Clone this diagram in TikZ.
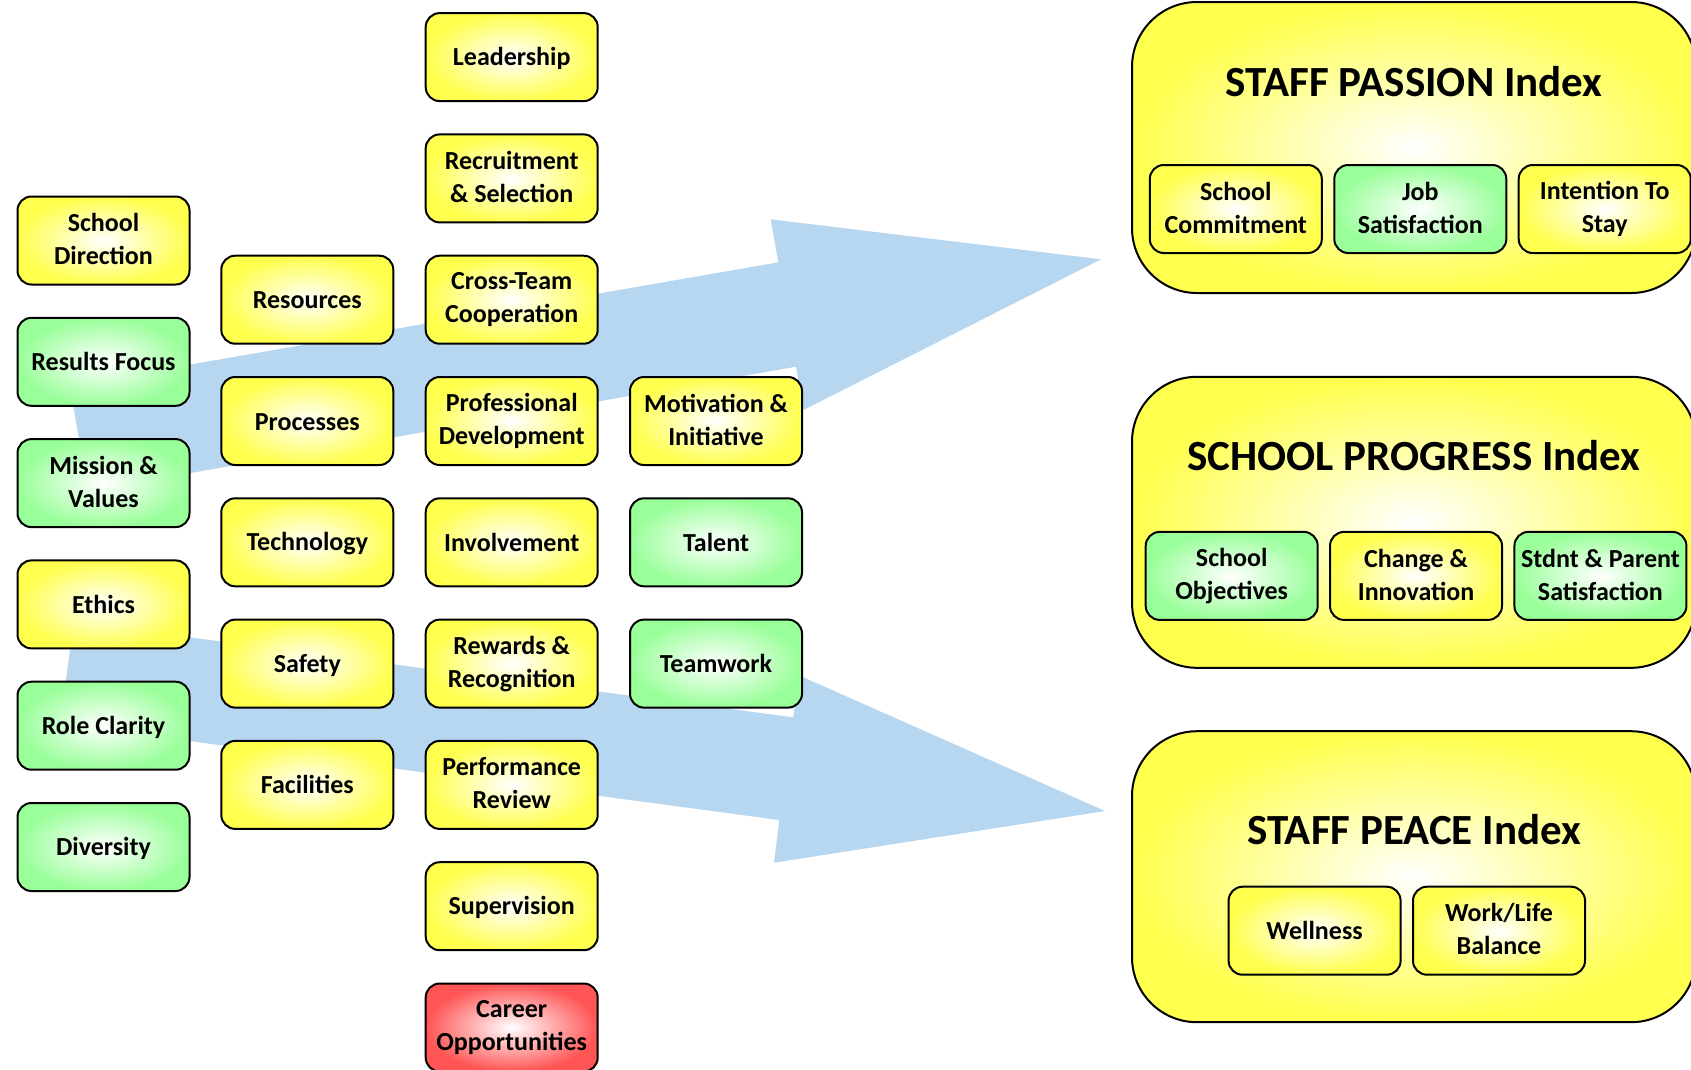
\documentclass[tikz,border=0pt]{standalone}
\usepackage{fontspec}
\setmainfont{Carlito}
\definecolor{boxyellow}{RGB}{255,255,77}
\definecolor{boxgreen}{RGB}{153,255,153}
\definecolor{boxred}{RGB}{255,85,85}
\definecolor{arrowblue}{RGB}{183,214,240}
\newcommand\boxstrut{\rule[-3pt]{0pt}{24pt}}
\tikzset{
  box/.style={draw, line width=2pt, rounded corners=14pt, minimum width=172pt,
    minimum height=88pt, inner sep=2pt, align=center,
    font=\bfseries\fontsize{26}{33}\selectfont,
    execute at begin node=\boxstrut, execute at end node=\boxstrut},
  yel/.style={box, inner color=white, outer color=boxyellow},
  grn/.style={box, inner color=white, outer color=boxgreen},
  rd/.style={box, inner color=white, outer color=boxred},
  index/.style={draw, line width=2pt, rounded corners=65pt, minimum width=564pt,
    minimum height=291pt, inner color=white, outer color=boxyellow},
  title/.style={font=\bfseries\fontsize{43}{52}\selectfont}
}
\begin{document}
\begin{tikzpicture}[x=1pt, y=-1pt]
            \useasboundingbox (0,0) rectangle (1691,1069);
            \clip (0,0) rectangle (1691,1069);
            \fill[arrowblue] (69.7,385.5) -- (778.3,262.3) -- (770.7,219.3) -- (1101,259.3)
                -- (803.5,410) -- (796,366.7) -- (88,491) -- cycle;
            \fill[arrowblue] (73.7,622) -- (793.3,717.3) -- (798.9,675.3) -- (1105,811)
                -- (774,862.7) -- (779.3,820) -- (60.2,723.7) -- cycle;
            \node[yel] (A1) at (103.5, 240.5) {School\\Direction};
            \node[grn] (A2) at (103.5, 361.8) {Results Focus};
            \node[grn] (A3) at (103.5, 483.1) {Mission \&\\Values};
            \node[yel] (A4) at (103.5, 604.4) {Ethics};
            \node[grn] (A5) at (103.5, 725.7) {Role Clarity};
            \node[grn] (A6) at (103.5, 847) {Diversity};
            \node[yel] (B1) at (307.3, 299.7) {Resources};
            \node[yel] (B2) at (307.3, 421) {Processes};
            \node[yel] (B3) at (307.3, 542.3) {Technology};
            \node[yel] (B4) at (307.3, 663.6) {Safety};
            \node[yel] (B5) at (307.3, 784.9) {Facilities};
            \node[yel] (C1) at (511.7, 57.1) {Leadership};
            \node[yel] (C2) at (511.7, 178.4) {Recruitment\\\& Selection};
            \node[yel] (C3) at (511.7, 299.7) {Cross-Team\\Cooperation};
            \node[yel] (C4) at (511.7, 421) {Professional\\Development};
            \node[yel] (C5) at (511.7, 542.3) {Involvement};
            \node[yel] (C6) at (511.7, 663.6) {Rewards \&\\Recognition};
            \node[yel] (C7) at (511.7, 784.9) {Performance\\Review};
            \node[yel] (C8) at (511.7, 906.2) {Supervision};
            \node[rd] (C9) at (511.7, 1027.5) {Career\\Opportunities};
            \node[yel] (D1) at (716, 421) {Motivation \&\\Initiative};
            \node[grn] (D2) at (716, 542.3) {Talent};
            \node[grn] (D3) at (716, 663.6) {Teamwork};
            \node[index] (P) at (1414, 147.5) {};
            \node[title] (PT) at (1414, 82) {STAFF PASSION Index};
            \node[yel] (P1) at (1235.8, 209) {School\\Commitment};
            \node[grn] (P2) at (1420.3, 209) {Job\\Satisfaction};
            \node[yel] (P3) at (1604.7, 209) {Intention To\\Stay};
            \node[index] (Q) at (1414, 522.3) {};
            \node[title] (QT) at (1414, 456) {SCHOOL PROGRESS Index};
            \node[grn] (Q1) at (1231.7, 575.9) {School\\Objectives};
            \node[yel] (Q2) at (1416, 575.9) {Change \&\\Innovation};
            \node[grn] (Q3) at (1600.4, 575.9) {Stdnt \& Parent\\Satisfaction};
            \node[index] (R) at (1414, 876.7) {};
            \node[title] (RT) at (1414, 830) {STAFF PEACE Index};
            \node[yel] (R1) at (1314.6, 930.7) {Wellness};
            \node[yel] (R2) at (1499, 930.7) {Work/Life\\Balance};
        \end{tikzpicture}
\end{document}
